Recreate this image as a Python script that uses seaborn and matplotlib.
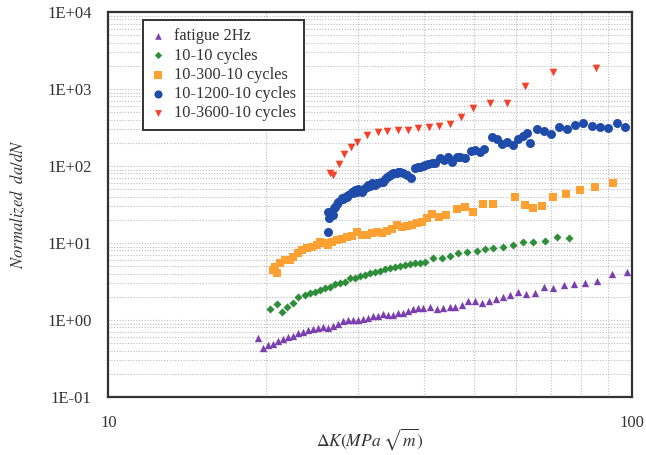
import numpy as np
import pandas as pd
import matplotlib
matplotlib.use('Agg')
import matplotlib.pyplot as plt
import matplotlib.ticker as mticker
import seaborn as sns

# fatigue 2Hz
fat_dk = [19.33, 19.76, 20.20, 20.65, 21.11, 21.58, 22.06, 22.55, 23.05, 23.56,
          24.09, 24.62, 25.17, 25.72, 26.30, 26.89, 27.49, 28.09, 28.72, 29.36,
          30.01, 30.68, 31.36, 32.05, 32.77, 33.50, 34.24, 35.00, 35.78, 36.58,
          37.38, 38.21, 39.07, 39.94, 41.14, 42.37, 43.61, 44.91, 45.92, 47.29,
          48.68, 50.12, 51.64, 53.40, 54.99, 56.63, 58.48, 60.65, 62.75, 65.27,
          68.01, 70.73, 74.14, 77.60, 81.32, 85.82, 91.47, 97.95]
fat_rate = [0.578, 0.429, 0.473, 0.488, 0.538, 0.561, 0.596, 0.620, 0.672, 0.705,
            0.742, 0.771, 0.780, 0.804, 0.780, 0.836, 0.887, 0.979, 1.0, 1.0,
            1.0, 1.021, 1.052, 1.127, 1.127, 1.197, 1.151, 1.151, 1.222, 1.244,
            1.309, 1.377, 1.419, 1.419, 1.488, 1.377, 1.419, 1.462, 1.462, 1.566,
            1.781, 1.781, 1.648, 1.781, 1.857, 2.007, 2.112, 2.331, 2.176, 2.262,
            2.707, 2.580, 2.848, 2.935, 3.051, 3.239, 3.958, 4.240]

# 10-10 cycles
c10_dk = [20.35, 20.96, 21.43, 21.90, 22.55, 23.05, 23.74, 24.27, 24.80, 25.36,
          25.92, 26.50, 27.09, 27.69, 28.31, 28.93, 29.58, 30.23, 30.91, 31.60,
          32.30, 33.02, 33.75, 34.50, 35.27, 36.05, 36.85, 37.67, 38.51, 39.36,
          40.24, 41.73, 43.31, 44.91, 46.57, 48.33, 50.50, 52.39, 54.34, 56.78,
          59.33, 62.00, 64.78, 68.21, 71.82, 75.89]
c10_rate = [1.377, 1.60, 1.282, 1.488, 1.648, 2.007, 2.112, 2.222, 2.331, 2.453,
            2.580, 2.707, 2.935, 3.051, 3.144, 3.480, 3.543, 3.728, 3.840, 4.042,
            4.165, 4.368, 4.555, 4.693, 4.836, 5.027, 5.18, 5.337, 5.45, 5.45,
            5.617, 6.33, 6.44, 6.78, 7.35, 7.57, 7.94, 8.28, 8.54, 8.95,
            9.42, 10.21, 10.40, 10.71, 11.86, 11.72]

# 10-300-10 cycles
c300_dk = [20.65, 20.81, 20.96, 21.27, 21.74, 22.23, 22.55, 23.05, 23.40, 23.91,
           24.45, 24.99, 25.36, 25.92, 26.30, 26.70, 27.29, 27.90, 28.51, 29.16,
           29.80, 30.46, 31.14, 31.83, 32.54, 33.27, 34.00, 34.76, 35.53, 36.32,
           37.13, 37.95, 38.80, 39.66, 40.54, 41.44, 42.79, 44.13, 46.27, 47.97,
           49.70, 52.0, 54.34, 59.91, 62.47, 64.78, 67.22, 70.73, 74.73, 79.45,
           84.98, 91.92]
c300_rate = [4.46, 4.92, 4.04, 5.45, 6.02, 6.02, 6.64, 7.35, 8.11, 8.54,
             8.95, 9.42, 10.40, 9.91, 9.42, 10.40, 10.94, 11.17, 11.86, 12.33,
             14.02, 12.70, 12.70, 13.37, 14.02, 13.37, 14.45, 15.06, 17.13, 16.28,
             16.63, 17.13, 18.03, 18.91, 20.94, 23.45, 21.96, 23.10, 27.64, 28.91,
             25.12, 32.39, 32.39, 38.99, 31.15, 28.65, 29.97, 38.99, 43.69, 48.79,
             53.38, 59.61]

# 10-1200-10 cycles
c1200_dk = [26.30, 26.30, 26.42, 26.61, 26.89, 26.97, 27.09, 27.33, 27.49, 27.90,
            28.06, 28.31, 28.56, 28.72, 29.16, 29.32, 29.58, 29.84, 30.01, 30.46,
            30.64, 30.91, 31.18, 31.36, 31.60, 31.83, 32.16, 32.30, 32.58, 32.77,
            33.16, 33.50, 33.75, 34.00, 34.35, 34.50, 34.80, 35.00, 35.53, 35.73,
            36.05, 36.58, 37.13, 37.79, 38.51, 39.02, 39.36, 39.88, 40.24, 40.77,
            41.44, 42.05, 42.98, 43.75, 44.58, 45.25, 46.22, 46.94, 47.99, 49.27,
            50.12, 51.23, 52.14, 53.95, 55.15, 56.38, 57.83, 59.33, 60.66, 62.00,
            62.93, 63.76, 65.77, 67.91, 70.04, 72.55, 75.04, 77.83, 80.72, 83.86,
            86.86, 90.08, 93.62, 96.96]
c1200_rate = [14.02, 25.50, 20.94, 25.27, 23.10, 28.48, 29.61, 32.10, 34.39, 38.07,
              37.28, 39.94, 39.58, 42.02, 46.37, 44.61, 48.79, 45.96, 49.82, 46.37,
              48.79, 51.33, 53.38, 56.64, 55.0, 59.61, 58.38, 56.64, 60.15, 60.69,
              61.97, 62.53, 67.80, 72.61, 74.15, 76.40, 78.74, 80.40, 81.85, 83.58,
              84.33, 80.40, 76.40, 69.23, 93.35, 97.05, 97.93, 100.0, 103.0, 106.2,
              108.4, 110.4, 125.9, 119.7, 130.9, 113.7, 130.9, 130.9, 125.9, 157.5,
              161.4, 153.4, 166.3, 238.1, 220.9, 193.1, 206.9, 187.4, 224.2, 245.3,
              265.9, 197.2, 299.6, 284.8, 262.7, 318.2, 299.6, 340.8, 358.5, 330.7,
              323.9, 308.7, 365.0, 318.2]

# 10-3600-10 cycles
c3600_dk = [26.50, 26.89, 27.57, 28.22, 29.06, 29.88, 31.18, 32.68, 34.09, 35.68,
            37.34, 39.07, 40.90, 42.79, 44.91, 47.08, 49.77, 53.56, 57.79, 62.48,
            70.73, 85.36]
c3600_rate = [80.4, 76.4, 106.2, 141.9, 174.9, 203.1, 252.9, 274.2, 285.0, 291.0,
              296.0, 308.9, 323.9, 330.6, 348.3, 436.8, 571.5, 651.8, 663.4, 1094,
              1678, 1857]

series = [
    ('fatigue 2Hz', fat_dk, fat_rate, '^', '#7B3FB0', 28),
    ('10-10 cycles', c10_dk, c10_rate, 'D', '#2E8E3A', 17),
    ('10-300-10 cycles', c300_dk, c300_rate, 's', '#FFA033', 34),
    ('10-1200-10 cycles', c1200_dk, c1200_rate, 'o', '#1F4BAA', 42),
    ('10-3600-10 cycles', c3600_dk, c3600_rate, 'v', '#F5402A', 30),
]

sns.set_theme(style='white')
plt.rcParams['font.family'] = ['Liberation Serif', 'DejaVu Serif']
plt.rcParams['mathtext.fontset'] = 'stix'

fig = plt.figure(figsize=(6.46, 4.55), dpi=100)
ax = fig.add_axes([108.4 / 646, 1 - 397 / 455, 523.6 / 646, 385 / 455])

for name, dk, rate, mk, col, size in series:
    df = pd.DataFrame({'dK': dk, 'rate': rate})
    sns.scatterplot(data=df, x='dK', y='rate', marker=mk, color=col, s=size,
                    linewidth=0, label=name, ax=ax, zorder=3)

ax.set_xscale('log')
ax.set_yscale('log')
ax.set_xlim(10, 100)
ax.set_ylim(0.1, 10000)

ax.xaxis.set_major_locator(mticker.FixedLocator([10, 100]))
ax.xaxis.set_major_formatter(mticker.FixedFormatter(['10', '100']))
ax.xaxis.set_minor_locator(mticker.LogLocator(base=10, subs=np.arange(2, 10)))
ax.xaxis.set_minor_formatter(mticker.NullFormatter())
ax.yaxis.set_major_locator(mticker.LogLocator(base=10, numticks=10))
ax.yaxis.set_major_formatter(mticker.FuncFormatter(
    lambda v, p: '1E{:+03d}'.format(int(round(np.log10(v))))))
ax.yaxis.set_minor_locator(mticker.LogLocator(base=10, subs=np.arange(2, 10), numticks=20))
ax.yaxis.set_minor_formatter(mticker.NullFormatter())

ax.tick_params(axis='both', which='both', direction='in', colors='#333333',
               labelcolor='#333333', labelsize=12)
ax.tick_params(axis='y', which='major', length=4, width=0.8, pad=12)
ax.tick_params(axis='y', which='minor', length=2, width=0.6)
ax.tick_params(axis='x', which='major', length=0, pad=13)
ax.tick_params(axis='x', which='minor', length=0)

ax.set_axisbelow(True)
ax.grid(True, which='both', color='#bdbdbd', linestyle=(0, (1, 1.5)), linewidth=0.8)
for sp in ax.spines.values():
    sp.set_color('#333333')
    sp.set_linewidth(1.6)

ax.set_xlabel(r'$\Delta K(MPa\ \sqrt{m})$', fontsize=12.5, color='#333333')
ax.xaxis.set_label_coords(0.5, -0.075)
ax.set_ylabel(r'$Normalized\ \ da/dN$', fontsize=12, color='#333333', labelpad=14)

leg = ax.legend(loc='upper left', bbox_to_anchor=(0.066, 0.979), fontsize=11.8,
                frameon=True, fancybox=False, edgecolor='#333333', framealpha=1,
                handlelength=0.8, handletextpad=0.6, labelspacing=0.2,
                borderpad=0.5, markerscale=0.9, borderaxespad=0)
leg.get_frame().set_linewidth(1.4)
for t in leg.get_texts():
    t.set_color('#333333')

plt.savefig('out.png', dpi=100)
